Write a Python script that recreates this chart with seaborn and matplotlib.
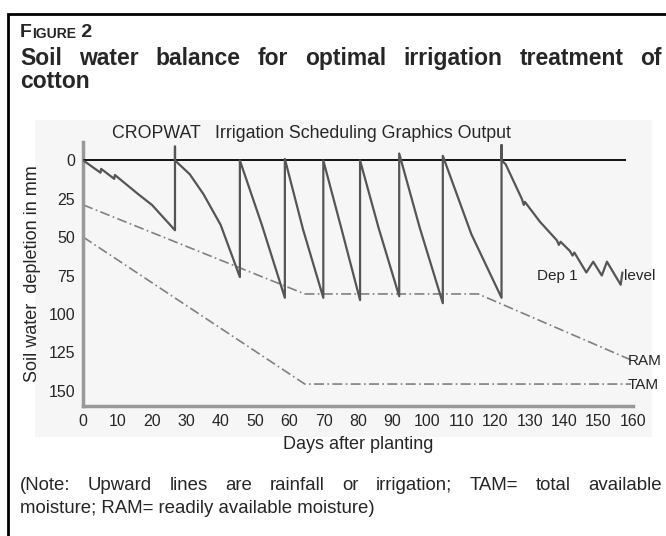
import matplotlib
matplotlib.use("Agg")
import matplotlib.pyplot as plt
from matplotlib.patches import Rectangle
import seaborn as sns
import pandas as pd

depl_day = [0, 5, 5.2, 9, 9.2, 16, 20, 26.7, 26.7, 26.7, 31, 35, 40, 45.6, 45.6,
            52, 58.7, 58.7, 64, 69.9, 69.9, 75, 80.6, 80.6, 86, 92, 92, 98, 104.7, 104.7,
            113, 121.8, 121.8, 121.8, 123, 127.7, 128.3, 128.6, 133, 137.9, 138.5, 139,
            141.7, 142.5, 143, 146.5, 148.5, 151, 152.5, 156.5, 157]
depl_mm = [0, 8, 5.5, 12, 9.5, 22, 29, 45.5, -9, 0, 9, 22, 42, 76, 0,
           42, 89.5, -1, 45, 89.5, 0, 43, 91, 0, 44, 88.5, -4.5, 44, 93, -3,
           48, 89.5, -10, 0, 2.5, 25, 29, 27, 40, 52, 55, 53,
           59, 62, 60, 73, 66, 75, 66, 81, 73]

ram_day = [0, 64.5, 115, 159.5]
ram_mm = [29, 87, 87, 130]
tam_day = [0, 64.5, 159.5]
tam_mm = [50, 145.7, 145.7]

x_ticks = list(range(0, 161, 10))
y_ticks = [0, 25, 50, 75, 100, 125, 150]

sns.set_style("white")
plt.rcParams['font.family'] = ['Liberation Sans', 'DejaVu Sans']
narrow = ['Liberation Sans Narrow', 'Liberation Sans', 'DejaVu Sans']

W, H = 666, 536
fig = plt.figure(figsize=(W / 100, H / 100), dpi=100)

def fx(px):
    return px / W

def fy(py):
    return 1 - py / H

def justify(line, x0, x1, y, **kw):
    # spread the words of one line between x0 and x1 (pixels), like the printed page
    words = line.split()
    texts = [fig.text(0, fy(y), w, ha='left', va='baseline', **kw) for w in words]
    r = fig.canvas.get_renderer()
    widths = [t.get_window_extent(r).width for t in texts]
    gap = (x1 - x0 - sum(widths)) / (len(words) - 1)
    x = x0
    for t, w in zip(texts, widths):
        t.set_x(fx(x))
        x += w + gap

# light grey panel behind the graphic and the outer frame
fig.add_artist(Rectangle((fx(35), fy(437)), fx(652) - fx(35), fy(120) - fy(437),
                         transform=fig.transFigure, facecolor='#f6f6f6', edgecolor='none', zorder=0))
fig.add_artist(Rectangle((fx(8), fy(545)), fx(700) - fx(8), fy(14) - fy(545),
                         transform=fig.transFigure, fill=False, edgecolor='black', lw=2, zorder=5))

ax = fig.add_axes([fx(83.3), fy(406), fx(632.7) - fx(83.3), fy(142) - fy(406)])
ax.patch.set_alpha(0)

df = pd.DataFrame({'day': depl_day, 'mm': depl_mm})
ram = pd.DataFrame({'day': ram_day, 'mm': ram_mm})
tam = pd.DataFrame({'day': tam_day, 'mm': tam_mm})

ax.hlines(0, 0, 158, color='black', lw=1.3, zorder=3)
sns.lineplot(data=ram, x='day', y='mm', ax=ax, color='#808080', lw=1.2,
             linestyle=(0, (6, 2, 1, 2)), sort=False, estimator=None)
sns.lineplot(data=tam, x='day', y='mm', ax=ax, color='#808080', lw=1.2,
             linestyle=(0, (6, 2, 1, 2)), sort=False, estimator=None)
sns.lineplot(data=df, x='day', y='mm', ax=ax, color='#555555', lw=1.6,
             sort=False, estimator=None, zorder=4)

ax.set_xlim(0, 160)
ax.set_ylim(160, -12)
ax.set_xticks(x_ticks)
ax.set_yticks(y_ticks)
ax.tick_params(axis='both', length=3, width=1.5, color='#888888', labelsize=11.5, pad=3)
for s in ['top', 'right']:
    ax.spines[s].set_visible(False)
for s in ['left', 'bottom']:
    ax.spines[s].set_color('#999999')
    ax.spines[s].set_linewidth(2.5)
ax.set_xlabel('Days after planting', fontsize=13, labelpad=5)
ax.set_ylabel('Soil water  depletion in mm', fontsize=13, labelpad=5)

ax.text(144, 75, 'Dep 1', fontsize=11, ha='right', va='center')
ax.text(157.5, 75, 'level', fontsize=11, ha='left', va='center')
ax.text(158.6, 131, 'RAM', fontsize=11, ha='left', va='center', clip_on=False)
ax.text(158.6, 146, 'TAM', fontsize=11, ha='left', va='center', clip_on=False)

fig.text(fx(112), fy(134), 'CROPWAT   Irrigation Scheduling Graphics Output',
         fontsize=12.8, ha='left', va='center')

# title: small caps "FIGURE 2"
t1 = fig.text(fx(20), fy(37), 'F', fontsize=14, fontweight='bold', va='baseline')
t2 = ax.annotate('IGURE', xy=(1, 0), xycoords=t1, fontsize=10, fontweight='bold',
                 va='bottom', annotation_clip=False)
ax.annotate(' 2', xy=(1, 0), xycoords=t2, fontsize=14, fontweight='bold',
            va='bottom', annotation_clip=False)
justify('Soil water balance for optimal irrigation treatment of', 20, 662, 65,
        fontsize=16.5, fontweight='bold', family=narrow)
fig.text(fx(20), fy(88), 'cotton', fontsize=16.5, fontweight='bold', ha='left', va='baseline',
         family=narrow)

justify('(Note: Upward lines are rainfall or irrigation; TAM= total available', 20, 662, 490,
        fontsize=13.4)
fig.text(fx(20), fy(513), 'moisture; RAM= readily available moisture)',
         fontsize=13.4, ha='left', va='baseline')

fig.savefig('out.png', dpi=100)
